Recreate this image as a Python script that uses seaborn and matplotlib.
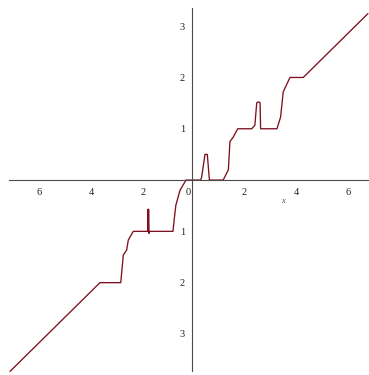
import numpy as np
import pandas as pd
import seaborn as sns
import matplotlib
matplotlib.use("Agg")
from matplotlib import pyplot as plt
from matplotlib.transforms import ScaledTranslation

# curve
x_vals = [-7.0, -3.54, -2.74, -2.64, -2.51, -2.45, -2.26, -1.70, -1.69, -1.685,
          -1.68, -1.675, -1.67, -1.66, -1.63, -0.73, -0.68, -0.62, -0.46, -0.23,
          0.33, 0.37, 0.50, 0.59, 0.67, 1.20, 1.40, 1.46, 1.59, 1.76,
          2.30, 2.42, 2.49, 2.52, 2.59, 2.62, 2.64, 3.27, 3.41, 3.51,
          3.77, 4.28, 6.77]
y_vals = [-3.73, -2.0, -2.0, -1.46, -1.36, -1.17, -1.0, -1.0, -0.57, -1.0,
          -0.60, -1.0, -0.57, -1.04, -1.0, -1.0, -0.75, -0.49, -0.2, 0.0,
          0.0, 0.05, 0.5, 0.5, 0.0, 0.0, 0.2, 0.75, 0.84, 1.0,
          1.0, 1.07, 1.5, 1.52, 1.52, 1.5, 1.0, 1.0, 1.23, 1.72,
          2.0, 2.0, 3.245]

xticks = [-6, -4, -2, 0, 2, 4, 6]
xtick_labels = ["6", "4", "2", "0", "2", "4", "6"]
yticks = [-3, -2, -1, 1, 2, 3]
ytick_labels = ["3", "2", "1", "1", "2", "3"]

df = pd.DataFrame({"x": x_vals, "y": y_vals})

sns.set_style("white")
plt.rcParams["font.family"] = ["Liberation Serif", "DejaVu Serif"]

fig = plt.figure(figsize=(3.69, 3.75), dpi=100)
ax = fig.add_axes([0, 0, 1, 1])

sns.lineplot(data=df, x="x", y="y", sort=False, estimator=None,
             color="#7f0f1f", linewidth=0.95, ax=ax)

ax.set_xlim(-7.385, 6.81)
ax.set_ylim(-3.80, 3.51)

# axes through the origin, maple style
axis_col = "#4a4a4a"
for s in ["top", "right"]:
    ax.spines[s].set_visible(False)
ax.spines["bottom"].set_position(("data", 0))
ax.spines["left"].set_position(("data", 0))
ax.spines["bottom"].set_bounds(-7.03, 6.81)
ax.spines["left"].set_bounds(-3.72, 3.35)
for s in ["bottom", "left"]:
    ax.spines[s].set_color(axis_col)
    ax.spines[s].set_linewidth(0.8)

ax.set_xticks(xticks)
ax.set_xticklabels(xtick_labels)
ax.set_xticks(np.arange(-7, 7, 1), minor=True)
ax.set_yticks(yticks)
ax.set_yticklabels(ytick_labels)
ax.set_yticks(np.arange(-3.5, 3.5, 0.5), minor=True)

ax.tick_params(axis="x", which="major", direction="out", length=3.5, width=0.7,
               color=axis_col, pad=2, labelsize=7.5, labelcolor="#222222")
ax.tick_params(axis="x", which="minor", direction="out", length=2, width=0.6,
               color="#888888")
ax.tick_params(axis="y", which="major", direction="out", length=3.5, width=0.7,
               color=axis_col, pad=1.5, labelsize=7.5, labelcolor="#222222")
ax.tick_params(axis="y", which="minor", direction="out", length=2, width=0.6,
               color="#888888")

# the negative labels sit a bit right of their ticks
shift = ScaledTranslation(3 / 100, 0, fig.dpi_scale_trans)
for lab, v in zip(ax.get_xticklabels(), xticks):
    if v < 0:
        lab.set_transform(lab.get_transform() + shift)
    if v == 0:
        lab.set_transform(lab.get_transform() + ScaledTranslation(-4 / 100, 0, fig.dpi_scale_trans))

ax.set_xlabel("")
ax.set_ylabel("")
ax.text(3.51, -0.4, "x", fontsize=6, style="italic", color="#444444",
        ha="center", va="center")

fig.savefig("out.png", dpi=100)
